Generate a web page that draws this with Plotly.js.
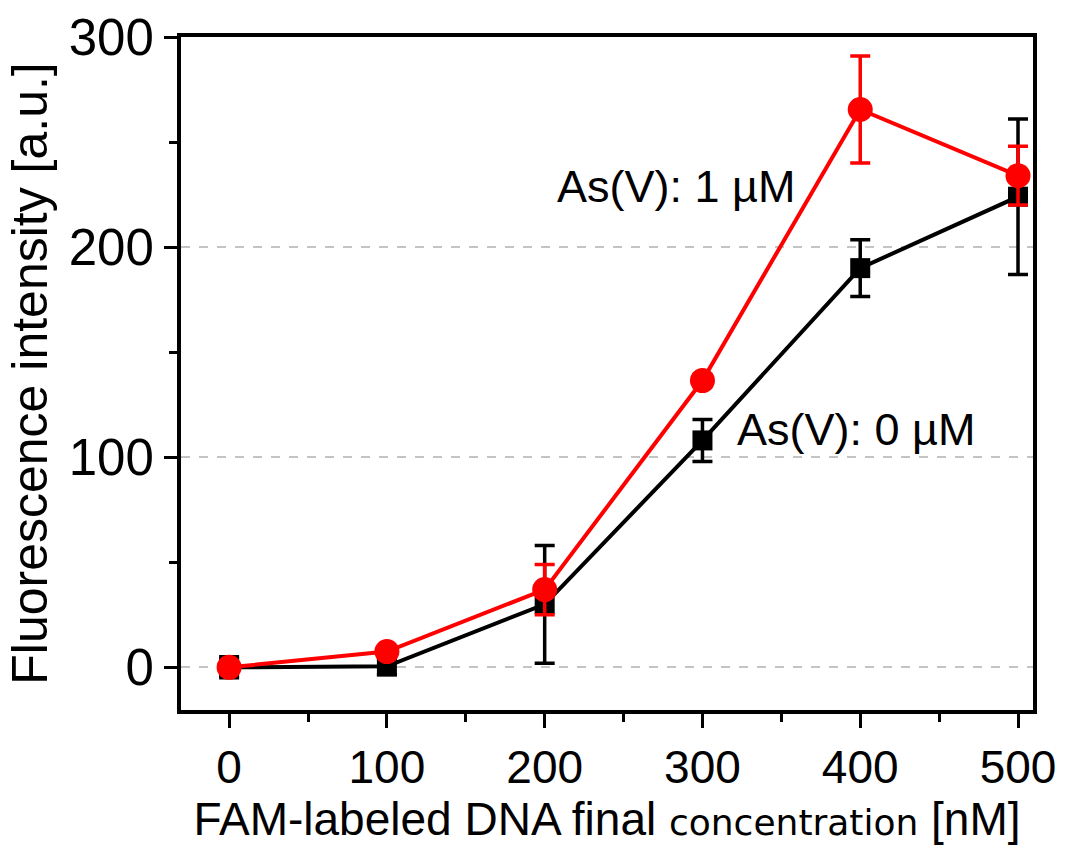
<!DOCTYPE html>
<html>
<head>
<meta charset="utf-8">
<script src="https://cdn.plot.ly/plotly-3.0.1.min.js"></script>
<style>html,body{margin:0;padding:0;background:#fff;}#chart{width:1067px;height:846px;}</style>
</head>
<body>
<div id="chart"></div>
<script>
const concentration = [0, 100, 200, 300, 400, 500];
const intensity0uM = [0, 0.5, 30, 108, 190, 224];
const error0uM = [5, 4, 28, 10, 13.5, 37];
const intensity1uM = [0, 7.5, 37, 136.5, 265.5, 234];
const error1uM = [2, 2, 12, 3, 25.5, 14];
const label0 = "As(V): 0 µM";
const label1 = "As(V): 1 µM";
const xTicks = [0, 100, 200, 300, 400, 500];
const yTicks = [0, 100, 200, 300];

const FONT = "Arial, 'Liberation Sans', sans-serif";

const traces = [
  {
    x: concentration, y: intensity0uM, name: label0, type: "scatter", mode: "lines+markers",
    line: {color: "#000000", width: 4},
    marker: {symbol: "square", size: 20, color: "#000000"},
    error_y: {type: "data", array: error0uM, visible: true, color: "#000000", thickness: 3.5, width: 10}
  },
  {
    x: concentration, y: intensity1uM, name: label1, type: "scatter", mode: "lines+markers",
    line: {color: "#ff0000", width: 4},
    marker: {symbol: "circle", size: 25, color: "#ff0000"},
    error_y: {type: "data", array: error1uM, visible: true, color: "#ff0000", thickness: 3.5, width: 10}
  }
];

const layout = {
  width: 1067, height: 846,
  margin: {l: 181, r: 34, t: 37, b: 136},
  paper_bgcolor: "#ffffff", plot_bgcolor: "#ffffff",
  showlegend: false,
  font: {family: FONT, color: "#000000"},
  xaxis: {
    range: [-30.5, 509.5],
    tickvals: xTicks, ticktext: xTicks.map(String),
    ticks: "outside", ticklen: 14, tickwidth: 3, tickcolor: "#000",
    minor: {dtick: 50, tick0: 0, ticks: "outside", ticklen: 8, tickwidth: 3, tickcolor: "#000", showgrid: false},
    showline: true, linewidth: 4, linecolor: "#000", mirror: true,
    showgrid: false, zeroline: false,
    tickfont: {size: 46, family: FONT},
    title: {text: "FAM-labeled DNA final <span style='font-family:\"DejaVu Sans\"; font-size:36px'>concentration</span> [nM]", font: {size: 46, family: FONT}, standoff: 6}
  },
  yaxis: {
    range: [-20.3, 300],
    tickvals: yTicks, ticktext: yTicks.map(String),
    ticks: "outside", ticklen: 13, tickwidth: 3, tickcolor: "#000",
    minor: {dtick: 50, tick0: 0, ticks: "outside", ticklen: 8, tickwidth: 3, tickcolor: "#000", showgrid: false},
    showline: true, linewidth: 4, linecolor: "#000", mirror: true,
    showgrid: true, gridcolor: "#c4c4c4", griddash: "dash", gridwidth: 2,
    zeroline: false,
    tickfont: {size: 51, family: FONT},
    title: {text: "Fluorescence intensity [a.u.]", font: {size: 50, family: FONT}, standoff: 6}
  },
  annotations: [
    {x: 283, y: 229, xref: "x", yref: "y", text: label1, showarrow: false, xanchor: "center", yanchor: "middle", font: {size: 45, family: FONT, color: "#000"}},
    {x: 397, y: 113, xref: "x", yref: "y", text: label0, showarrow: false, xanchor: "center", yanchor: "middle", font: {size: 45, family: FONT, color: "#000"}}
  ]
};

Plotly.newPlot("chart", traces, layout, {displayModeBar: false, staticPlot: true});
</script>
</body>
</html>
